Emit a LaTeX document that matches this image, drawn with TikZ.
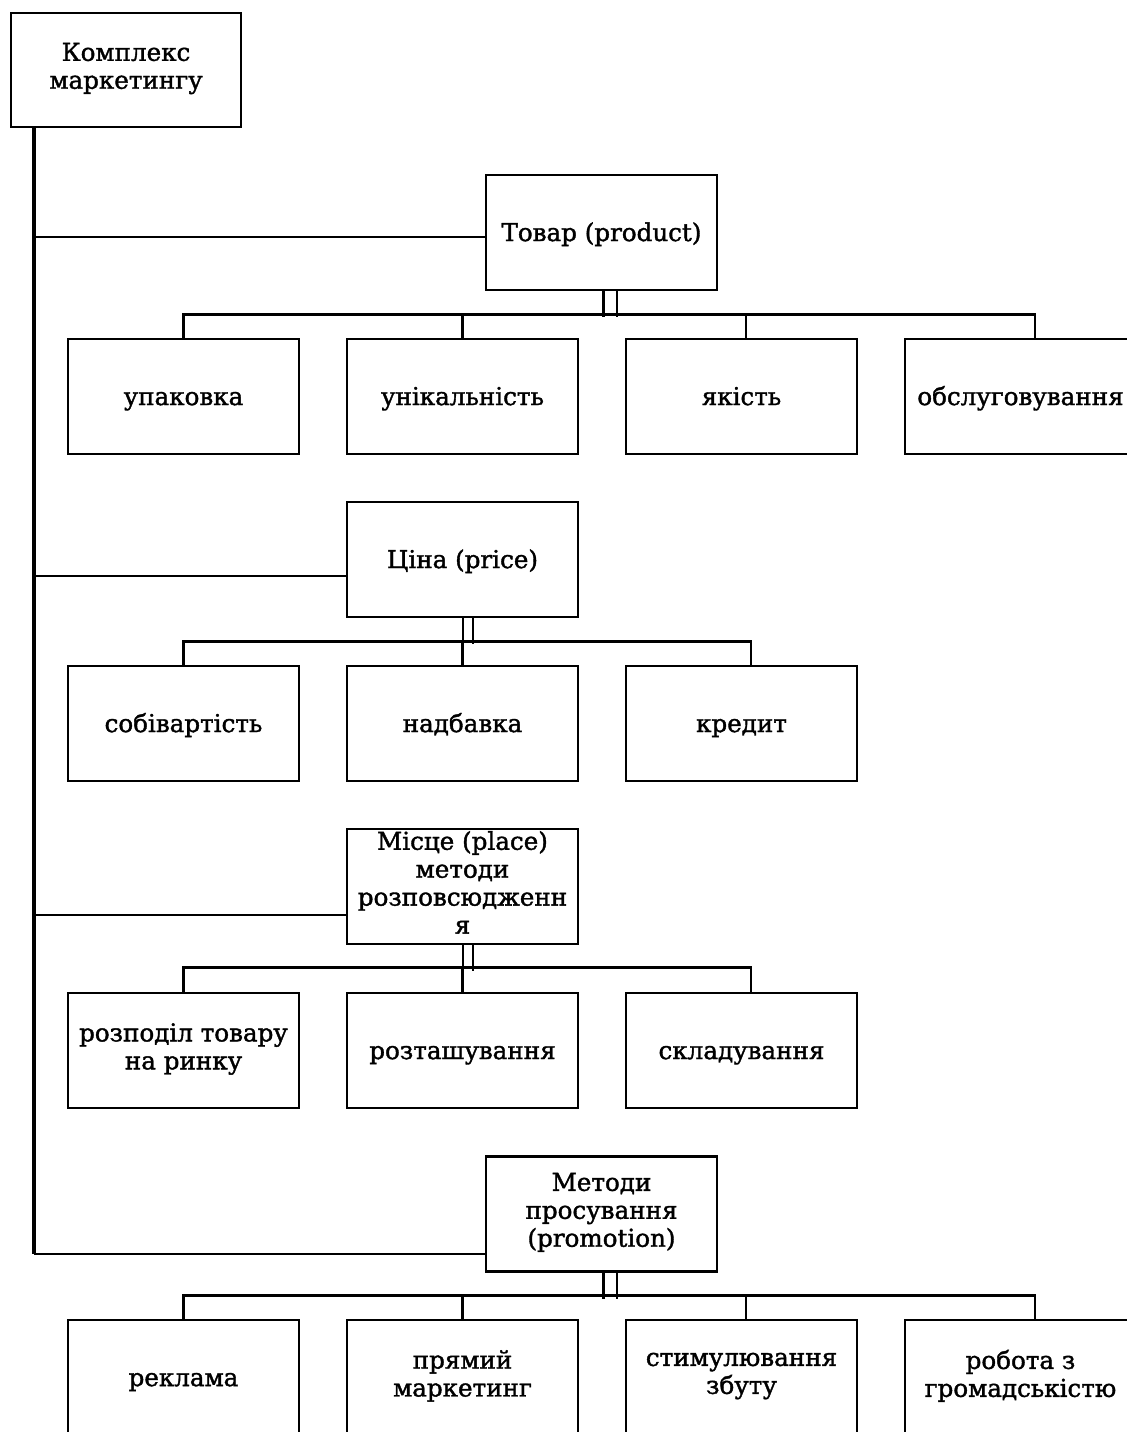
\documentclass[tikz,border=0pt]{standalone}
\usepackage{fontspec}
\setmainfont[FakeBold=1.5]{DejaVu Serif}
\usetikzlibrary{calc, positioning}

\begin{document}
\begin{tikzpicture}[x=0.02cm, y=-0.02cm,
  box/.style={draw, line width=1.6pt, minimum width=4.62cm, minimum height=2.3cm,
    align=center, inner sep=1pt, execute at begin node={\rule{0pt}{14.5pt}}, execute at end node=\strut,
    font=\fontsize{14}{15.9}\selectfont},
  link/.style={line width=1.6pt},
  trunkline/.style={line width=2.2pt}]
  \useasboundingbox (0,0) rectangle (1126,1432);

  % Root box
  \node[box, minimum width=4.6cm, minimum height=2.28cm] (root) at (126,70) {Комплекс\\маркетингу};

  % Group heads
  \node[box] (prod) at (601.5,232.5) {Товар (product)};
  \node[box] (price) at (462.5,559.5) {Ціна (price)};
  \node[box, execute at begin node=\strut] (place) at (462.5,886.5) {Місце (place)\\методи\\розповсюдженн\\я};
  \node[box] (promo) at (601.5,1214) {Методи\\просування\\(promotion)};

  % Children of each group
  \foreach \name/\x/\txt in {p1/183.5/упаковка, p2/462.5/унікальність, p3/741.5/якість, p4/1020.5/обслуговування}
    \node[box] (\name) at (\x,396.5) {\txt};
  \foreach \name/\x/\txt in {c1/183.5/собівартість, c2/462.5/надбавка, c3/741.5/кредит}
    \node[box] (\name) at (\x,723.5) {\txt};
  \foreach \name/\x/\txt in {d1/183.5/{розподіл товару\\на ринку}, d2/462.5/розташування, d3/741.5/складування}
    \node[box] (\name) at (\x,1050.5) {\txt};
  \foreach \name/\x/\txt in {m1/183.5/реклама, m2/462.5/{прямий\\маркетинг}, m3/741.5/{стимулювання\\збуту}, m4/1020.5/{робота з\\громадськістю}}
    \node[box] (\name) at (\x,1377.5) {\txt};

  % Trunk from the root
  \coordinate (t0) at (34,127);
  \coordinate (t1) at (34,237);
  \coordinate (t2) at (34,576);
  \coordinate (t3) at (34,915);
  \coordinate (t4) at (34,1254);
  \draw[trunkline] (t0) -- (t4);
  \draw[link] (t1) -- (t1 -| prod.west);
  \draw[link] (t2) -- (t2 -| price.west);
  \draw[link] (t3) -- (t3 -| place.west);
  \draw[link] (t4) -- (t4 -| promo.west);

  % Double drops under the heads
  \foreach \h/\a/\b in {prod/2/15.5, price/0.5/10.5, place/0.5/10.5, promo/2/15.5} {
    \draw[link] ($(\h.south)+(\a,0)$) -- ++(0,26);
    \draw[link] ($(\h.south)+(\b,0)$) -- ++(0,26);
  }

  % Buses to the children
  \draw[link] (p1.north) -- ++(0,-23) -| ($(p4.north)+(14.5,0)$);
  \draw[link] (p2.north) -- ++(0,-23);
  \draw[link] ($(p3.north)+(4.5,0)$) -- ++(0,-23);
  \draw[link] (c1.north) -- ++(0,-23) -| ($(c3.north)+(9.5,0)$);
  \draw[link] (c2.north) -- ++(0,-23);
  \draw[link] (d1.north) -- ++(0,-24) -| ($(d3.north)+(9.5,0)$);
  \draw[link] (d2.north) -- ++(0,-24);
  \draw[link] (m1.north) -- ++(0,-23) -| ($(m4.north)+(14.5,0)$);
  \draw[link] (m2.north) -- ++(0,-23);
  \draw[link] ($(m3.north)+(4.5,0)$) -- ++(0,-23);
\end{tikzpicture}
\end{document}
